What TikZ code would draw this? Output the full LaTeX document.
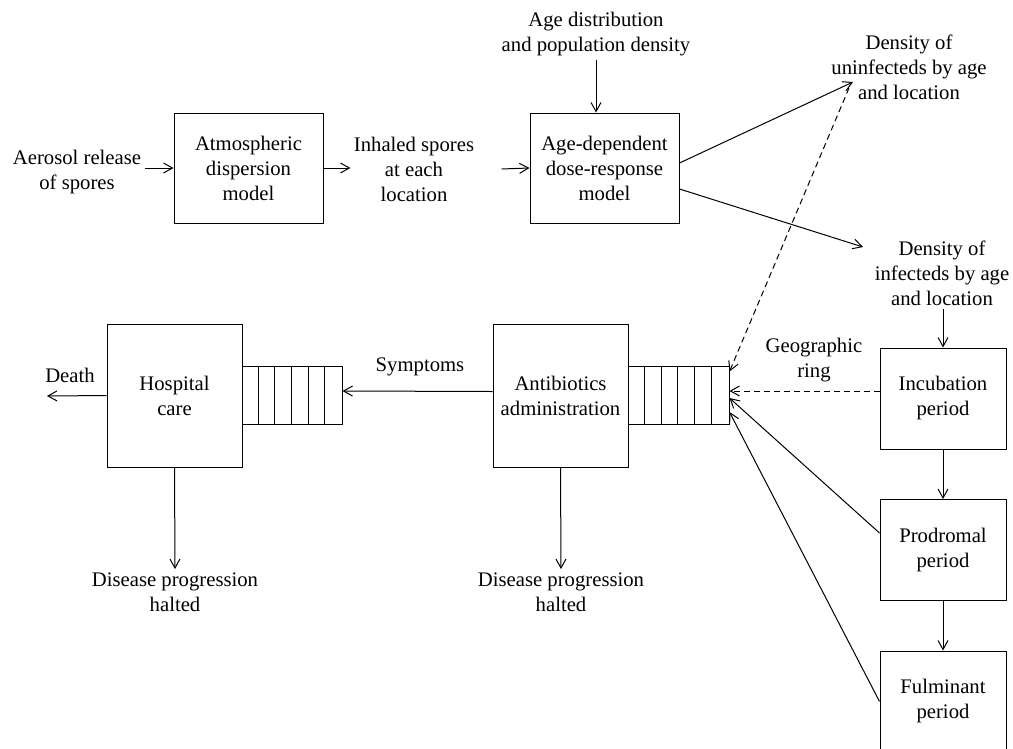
\documentclass[tikz,border=0pt]{standalone}
\usepackage{fontspec}
\setmainfont{Liberation Serif}
\usetikzlibrary{arrows.meta}

\begin{document}
\begin{tikzpicture}[
    x=1pt, y=-1pt,
    >={Straight Barb[length=9pt,width=10pt]},
    line width=1pt,
    modelbox/.style={rectangle, draw, line width=1pt, inner sep=0pt, align=center, font=\fontsize{20.7pt}{25pt}\selectfont},
    queuebox/.style={rectangle, draw, line width=1pt, inner sep=0pt, minimum height=58pt},
    plainlabel/.style={align=center, inner sep=3pt, font=\fontsize{20.7pt}{25pt}\selectfont},
    ringlink/.style={dashed, dash pattern=on 6pt off 4pt},
]
\useasboundingbox (0,0) rectangle (1013,748);

% Dispersion and dose-response chain
\node[plainlabel] (aerosol) at (77,172) {Aerosol release\\of spores};
\node[modelbox, minimum width=149pt, minimum height=110pt] (atmos) at (248.5,168) {Atmospheric\\dispersion\\model};
\node[plainlabel] (inhaled) at (414,169) {Inhaled spores\\at each\\location};
\node[modelbox, minimum width=149pt, minimum height=110pt] (agebox) at (604.5,168) {Age-dependent\\dose-response\\model};
\node[plainlabel] (agedist) at (596,34.5) {Age distribution\\and population density};
\node[plainlabel] (unin) at (909,67) {Density of\\uninfecteds by age\\and location};
\node[plainlabel] (infect) at (942,273) {Density of\\infecteds by age\\and location};

% Disease stages
\node[modelbox, minimum width=126pt, minimum height=101pt] (incub) at (943,398.5) {Incubation\\period};
\node[modelbox, minimum width=126pt, minimum height=101pt] (prodr) at (943,550) {Prodromal\\period};
\node[modelbox, minimum width=126pt, minimum height=101pt] (fulmi) at (943,701.5) {Fulminant\\period};

% Treatment and queues
\node[modelbox, minimum width=135pt, minimum height=143pt] (abx) at (560.5,395.5) {Antibiotics\\administration};
\node[queuebox, minimum width=101pt] (abxq) at (678.5,395) {};
\node[modelbox, minimum width=135pt, minimum height=143pt] (hosp) at (174.5,395.5) {Hospital\\care};
\node[queuebox, minimum width=100pt] (hospq) at (292,395) {};
\foreach \q/\w in {abxq/16.83, hospq/16.67} {
    \foreach \i in {1,...,5} {
        \draw ([xshift={\i*\w pt}]\q.north west) -- ([xshift={\i*\w pt}]\q.south west);
    }
}

% Labels
\node[plainlabel] (symptoms) at (420,367) {Symptoms};
\node[plainlabel] (death) at (70,375) {Death};
\node[plainlabel] (geo) at (814,360) {Geographic\\ring};
\node[plainlabel] (halt1) at (175,592) {Disease progression\\halted};
\node[plainlabel] (halt2) at (561,592) {Disease progression\\halted};

\coordinate (unintip) at (853,82);
\coordinate (uninfoot) at (849,88);
\coordinate (inftip) at (863,247);
\coordinate (deathend) at (47,396);

% Arrows
\draw[->] (aerosol.east |- atmos.west) -- (atmos.west);
\draw[->] (atmos.east) -- (inhaled.west |- atmos.east);
\draw[->] ([xshift=24pt]inhaled.east) -- (agebox.west);
\draw[->] (agedist.south) -- (agedist.south |- agebox.north);
\draw[->] ([yshift=5pt]agebox.east) -- (unintip);
\draw[->] ([yshift=-21pt]agebox.east) -- (inftip);
\draw[->] (infect.south -| incub.north) -- (incub.north);
\draw[->] (incub) -- (prodr);
\draw[->] (prodr) -- (fulmi);
\draw[->, ringlink] ([yshift=7.5pt]incub.west) -- ([yshift=4pt]abxq.east);
\draw[->, ringlink] (uninfoot) -- ([yshift=-6pt]abxq.north east);
\draw[->] ([yshift=17pt]prodr.west) -- ([yshift=-3pt]abxq.east);
\draw[->] (fulmi.west) -- ([yshift=-17pt]abxq.east);
\draw[->] ([yshift=4pt]abx.west) -- ([yshift=4pt]hospq.east);
\draw[->] (hosp.west) -- (deathend);
\draw[->] (hosp.south) -- (halt1.north);
\draw[->] (abx.south) -- (halt2.north);

\end{tikzpicture}
\end{document}
